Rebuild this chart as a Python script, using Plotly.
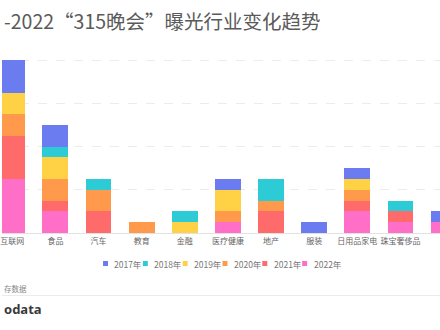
import plotly.graph_objects as go

categories = ["互联网", "食品", "汽车", "教育", "金融", "医疗健康", "地产", "服装", "日用品家电", "珠宝奢侈品", "其他"]
years = ["2017年", "2018年", "2019年", "2020年", "2021年", "2022年"]
v2017 = [3, 2, 0, 0, 0, 1, 0, 1, 1, 0, 1]
v2018 = [0, 1, 1, 0, 1, 0, 2, 0, 0, 1, 0]
v2019 = [2, 2, 0, 0, 1, 2, 0, 0, 1, 0, 0]
v2020 = [2, 2, 2, 1, 0, 1, 1, 0, 1, 0, 0]
v2021 = [4, 1, 2, 0, 0, 0, 2, 0, 1, 1, 0]
v2022 = [5, 2, 0, 0, 0, 1, 0, 0, 2, 1, 1]
colors = ["#6a7cf0", "#2ccbd6", "#ffd246", "#ff9a4c", "#ff6b6b", "#ff6ec7"]
series = [v2017, v2018, v2019, v2020, v2021, v2022]

W, H = 440, 330
mt, mb = 44, 97
fig = go.Figure()
# stack bottom = 2022
for name, vals, col in reversed(list(zip(years, series, colors))):
    fig.add_trace(go.Bar(x=list(range(len(categories))), y=vals, name=name,
                         marker=dict(color=col, line=dict(width=0)),
                         showlegend=False))

plot_h = H - mt - mb

def py(p):
    return (H - mb - p) / plot_h

annotations = []
shapes = []
# title (cropped at left in reference)
annotations.append(dict(text="-2022“315晚会”曝光行业变化趋势", x=0, y=py(20), xref="paper", yref="paper",
                        xanchor="left", yanchor="middle", showarrow=False,
                        font=dict(size=19.5, color="#5a5a5a", family="Noto Sans CJK SC")))
# legend
leg_x = [104, 144, 184, 224, 264, 304]
for lx, name, col in zip(leg_x, years, colors):
    shapes.append(dict(type="rect", xref="paper", yref="paper",
                       x0=(lx - 2.5) / W, x1=(lx + 2.5) / W, y0=py(266), y1=py(261),
                       fillcolor=col, line=dict(width=0)))
    annotations.append(dict(text=name, x=(lx + 7) / W, y=py(264), xref="paper", yref="paper",
                            xanchor="left", yanchor="middle", showarrow=False,
                            font=dict(size=8.5, color="#777", family="Noto Sans CJK SC")))
# source
annotations.append(dict(text="存数据", x=0, y=py(288), xref="paper", yref="paper",
                        xanchor="left", yanchor="middle", showarrow=False,
                        font=dict(size=7.5, color="#888", family="Noto Sans CJK SC")))
shapes.append(dict(type="line", xref="paper", yref="paper", x0=0, x1=1, y0=py(295.5), y1=py(295.5),
                   line=dict(color="#ececec", width=1)))
annotations.append(dict(text="<b>odata</b>", x=0, y=py(309), xref="paper", yref="paper",
                        xanchor="left", yanchor="middle", showarrow=False,
                        font=dict(size=13, color="#3a3a3a", family="Noto Sans")))

fig.update_layout(
    width=W, height=H, barmode="stack", bargap=0.4,
    margin=dict(l=0, r=0, t=mt, b=mb),
    paper_bgcolor="white", plot_bgcolor="white",
    xaxis=dict(range=[-0.238, 9.917], tickmode="array", tickvals=list(range(len(categories))),
               ticktext=categories, showgrid=False, showline=True, linecolor="#e2e2e2",
               ticks="", tickangle=0, ticklabeloverflow="allow",
               tickfont=dict(size=8, color="#666", family="Noto Sans CJK SC"),
               zeroline=False),
    yaxis=dict(range=[0, 17.5], dtick=4, showticklabels=False, showgrid=True,
               gridcolor="#ececec", griddash="dash", zeroline=False, showline=False),
    annotations=annotations, shapes=shapes, showlegend=False,
)
fig.write_html("out.html")
